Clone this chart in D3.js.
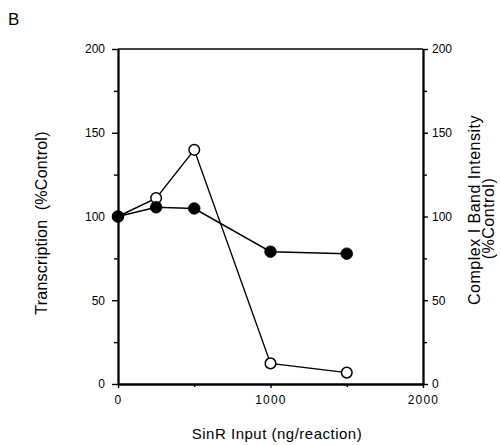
<!DOCTYPE html>
<html>
<head>
<meta charset="utf-8">
<script src="https://cdn.jsdelivr.net/npm/d3@7"></script>
<style>
  html, body { margin: 0; padding: 0; background: #fff; }
  svg { display: block; font-family: "Liberation Sans", Arial, Helvetica, sans-serif; }
</style>
</head>
<body>
<svg id="chart" width="501" height="445"></svg>
<script>
// SinR input (ng/reaction)
const doses = [0, 250, 500, 1000, 1500];
// filled-circle series (% of control)
const solidVals = [100, 105.5, 104.8, 79, 77.8];
// open-circle series (% of control)
const hollowVals = [100, 111, 139.8, 12.3, 6.8];

const xTicks = [0, 1000, 2000];
const xMinorTicks = [500, 1500];
const yTicks = [0, 50, 100, 150, 200];
const yMinorTicks = [25, 75, 125, 175];

const svg = d3.select("#chart");
const x = d3.scaleLinear().domain([0, 2000]).range([118, 423]);
const y = d3.scaleLinear().domain([0, 200]).range([384, 49]);

const ink = "#000";

// panel letter
svg.append("text").attr("x", 8).attr("y", 25)
  .attr("font-size", 17).attr("fill", ink).text("B");

// top border
svg.append("line")
  .attr("x1", x(0)).attr("x2", x(2000))
  .attr("y1", y(200)).attr("y2", y(200))
  .attr("stroke", ink).attr("stroke-width", 1.6);

function styleAxis(g) {
  g.select(".domain").attr("stroke", ink).attr("stroke-width", 1.8);
  g.selectAll(".tick line").attr("stroke", ink).attr("stroke-width", 1.4);
  g.selectAll(".tick text").attr("fill", ink).attr("font-size", 12)
    .attr("font-family", "Liberation Sans, Arial, sans-serif");
}

// left axis
const leftMinor = svg.append("g").attr("transform", `translate(${x(0)},0)`)
  .call(d3.axisLeft(y).tickValues(yMinorTicks).tickSize(4).tickSizeOuter(0).tickFormat(""));
styleAxis(leftMinor);
const left = svg.append("g").attr("transform", `translate(${x(0)},0)`)
  .call(d3.axisLeft(y).tickValues(yTicks).tickSize(6).tickSizeOuter(0).tickPadding(7));
styleAxis(left);

// right axis
const rightMinor = svg.append("g").attr("transform", `translate(${x(2000)},0)`)
  .call(d3.axisRight(y).tickValues(yMinorTicks).tickSize(4).tickSizeOuter(0).tickFormat(""));
styleAxis(rightMinor);
const right = svg.append("g").attr("transform", `translate(${x(2000)},0)`)
  .call(d3.axisRight(y).tickValues(yTicks).tickSize(5).tickSizeOuter(0).tickPadding(4));
styleAxis(right);

// bottom axis
const bottomMinor = svg.append("g").attr("transform", `translate(0,${y(0)})`)
  .call(d3.axisBottom(x).tickValues(xMinorTicks).tickSize(3).tickSizeOuter(0).tickFormat(""));
styleAxis(bottomMinor);
const bottom = svg.append("g").attr("transform", `translate(0,${y(0)})`)
  .call(d3.axisBottom(x).tickValues(xTicks).tickSize(4).tickSizeOuter(0)
    .tickPadding(7).tickFormat(d3.format("d")));
styleAxis(bottom);
bottom.selectAll(".tick text").attr("letter-spacing", 1.2);

// axis titles
svg.append("text")
  .attr("transform", `translate(47,223) rotate(-90)`)
  .attr("text-anchor", "middle").attr("font-size", 16).attr("letter-spacing", 0.25)
  .attr("fill", ink).attr("xml:space", "preserve")
  .text("Transcription  (%Control)");

svg.append("text")
  .attr("transform", `translate(479.5,210) rotate(-90)`)
  .attr("text-anchor", "middle").attr("font-size", 16).attr("letter-spacing", 0.5)
  .attr("fill", ink)
  .text("Complex I Band Intensity");
svg.append("text")
  .attr("transform", `translate(493.5,218.5) rotate(-90)`)
  .attr("text-anchor", "middle").attr("font-size", 16).attr("letter-spacing", 0.5)
  .attr("fill", ink)
  .text("(%Control)");

svg.append("text")
  .attr("x", 277).attr("y", 438.5)
  .attr("text-anchor", "middle").attr("font-size", 15).attr("letter-spacing", 0.5)
  .attr("fill", ink)
  .text("SinR Input (ng/reaction)");

// series
const line = d3.line().x(d => x(d[0])).y(d => y(d[1]));
const hollow = doses.map((d, i) => [d, hollowVals[i]]);
const solid = doses.map((d, i) => [d, solidVals[i]]);

svg.append("path").datum(hollow).attr("d", line)
  .attr("fill", "none").attr("stroke", ink).attr("stroke-width", 1.4);
svg.append("path").datum(solid).attr("d", line)
  .attr("fill", "none").attr("stroke", ink).attr("stroke-width", 1.6);

svg.selectAll(".hollow").data(hollow).enter().append("circle")
  .attr("class", "hollow")
  .attr("cx", d => x(d[0])).attr("cy", d => y(d[1])).attr("r", 5.3)
  .attr("fill", "#fff").attr("stroke", ink).attr("stroke-width", 1.5);
svg.selectAll(".solid").data(solid).enter().append("circle")
  .attr("class", "solid")
  .attr("cx", d => x(d[0])).attr("cy", d => y(d[1])).attr("r", 5.8)
  .attr("fill", ink).attr("stroke", ink).attr("stroke-width", 0.8);
</script>
</body>
</html>
